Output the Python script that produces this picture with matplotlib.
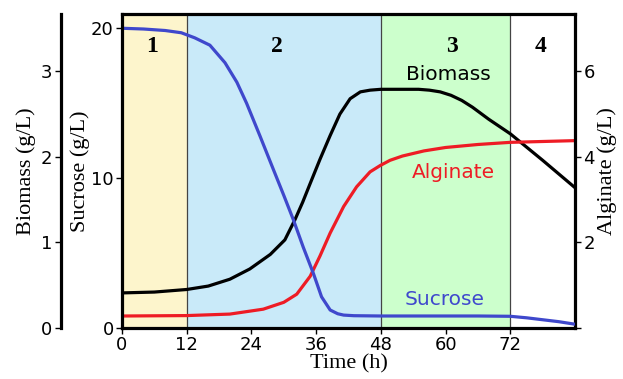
import numpy as np
import matplotlib
matplotlib.use("Agg")
import matplotlib.pyplot as plt

# ---- data ----
t_suc = [0, 4, 8, 11, 13.5, 16.3, 19.1, 21.3, 23.1, 25.6, 28.1, 30, 31.8, 33.6, 35.5, 37,
         38.6, 40, 41.1, 43, 48, 60, 66, 72, 75, 78, 81, 84]
sucrose = [20.0, 19.95, 19.85, 19.7, 19.36, 18.87, 17.7, 16.4, 15.0, 12.8, 10.55, 8.85, 7.2,
           5.4, 3.63, 2.08, 1.2, 0.95, 0.86, 0.82, 0.8, 0.8, 0.8, 0.78, 0.68, 0.55, 0.42, 0.25]

t_bio = [0, 6, 12, 16, 20, 23.7, 27.5, 30.2, 32.1, 33.5, 34.9, 36.7, 38.6, 40.4, 42.3, 44.2,
         46, 48, 55, 57, 59, 61, 63, 65, 68, 72, 78, 84]
biomass = [0.41, 0.42, 0.45, 0.49, 0.57, 0.69, 0.86, 1.03, 1.27, 1.47, 1.69, 1.97, 2.25, 2.50,
           2.68, 2.76, 2.78, 2.79, 2.79, 2.78, 2.76, 2.72, 2.66, 2.58, 2.44, 2.27, 1.96, 1.64]

t_alg = [0, 12, 20, 26.2, 30, 32.4, 34.9, 36.7, 38.6, 41.1, 43.5, 46, 47.9, 49.7, 52, 56, 60,
         66, 72, 78, 84]
alginate = [0.28, 0.29, 0.325, 0.44, 0.60, 0.79, 1.21, 1.68, 2.22, 2.84, 3.30, 3.65, 3.80,
            3.92, 4.02, 4.14, 4.22, 4.29, 4.34, 4.36, 4.38]

phase_edges = [0, 12, 48, 72, 84]
phase_colors = ['#fdf5cc', '#c9eaf9', '#ccffcc', '#ffffff']
phase_names = ['1', '2', '3', '4']
x_ticks = [0, 12, 24, 36, 48, 60, 72]

serif = 'Liberation Serif'
tick_fs = 13
lab_fs = 16

fig = plt.figure(figsize=(6.23, 3.79), dpi=100)
ax = fig.add_axes([0.1958, 0.1346, 0.7272, 0.8284])   # sucrose (left, main)
ax_bio = ax.twinx()                                   # biomass (far left)
ax_alg = ax.twinx()                                   # alginate (right)

# draw order: background on biomass axes, sucrose line on top
ax_bio.set_zorder(1)
ax_alg.set_zorder(2)
ax.set_zorder(3)
ax.patch.set_visible(False)

# ---- phase shading ----
for i in range(4):
    ax_bio.axvspan(phase_edges[i], phase_edges[i + 1], color=phase_colors[i], lw=0, zorder=0)
for xe in phase_edges[1:-1]:
    ax_bio.axvline(xe, color='#444444', lw=0.9, zorder=1)

# ---- curves ----
line_kw = dict(lw=2.3, solid_joinstyle='round', solid_capstyle='butt')
ax_bio.plot(t_bio, biomass, color='black', zorder=3, **line_kw)
ax_alg.plot(t_alg, alginate, color='#ee1c25', **line_kw)
ax.plot(t_suc, sucrose, color='#3f48cc', **line_kw)

# ---- axes limits / ticks ----
ax.set_xlim(0, 84)
ax.set_ylim(0, 20.95)
ax_bio.set_ylim(0, 3.67)
ax_alg.set_ylim(0, 7.34)

ax.set_xticks(x_ticks)
ax.set_yticks([0, 10, 20])
ax_bio.set_yticks([0, 1, 2, 3])
ax_alg.set_yticks([0, 2, 4, 6])
ax_alg.set_yticklabels(['', '2', '4', '6'])

# biomass axis on the far left
ax_bio.yaxis.set_ticks_position('left')
ax_bio.yaxis.set_label_position('left')
ax_bio.spines['left'].set_position(('axes', -0.1347))
for s in ['top', 'bottom', 'right']:
    ax_bio.spines[s].set_visible(False)
ax_bio.spines['left'].set_linewidth(2.3)

for s in ['top', 'bottom', 'left']:
    ax_alg.spines[s].set_visible(False)
ax_alg.spines['right'].set_linewidth(2.3)

for s in ax.spines.values():
    s.set_linewidth(2.3)
ax.spines['right'].set_visible(False)

for a in (ax, ax_bio, ax_alg):
    a.tick_params(axis='both', labelsize=tick_fs, length=4, width=1, direction='out', pad=2)

# ---- labels ----
ax.set_xlabel('Time (h)', family=serif, fontsize=lab_fs, labelpad=0)
ax.set_ylabel('Sucrose (g/L)', family=serif, fontsize=lab_fs, labelpad=1)
ax_bio.set_ylabel('Biomass (g/L)', family=serif, fontsize=lab_fs, labelpad=4)
ax_alg.set_ylabel('Alginate (g/L)', family=serif, fontsize=lab_fs, labelpad=2)

num_x = [5.6, 28.8, 61.2, 77.7]
for xn, name in zip(num_x, phase_names):
    ax.text(xn, 18.8, name, family=serif, fontweight='bold', fontsize=17,
            ha='center', va='center')

ax.text(60.5, 16.9, 'Biomass', color='black', fontsize=14.5, ha='center', va='center')
ax.text(61.4, 10.4, 'Alginate', color='#ee1c25', fontsize=14.5, ha='center', va='center')
ax.text(59.9, 1.93, 'Sucrose', color='#3f48cc', fontsize=14.5, ha='center', va='center')

fig.savefig('out.png', dpi=100)
